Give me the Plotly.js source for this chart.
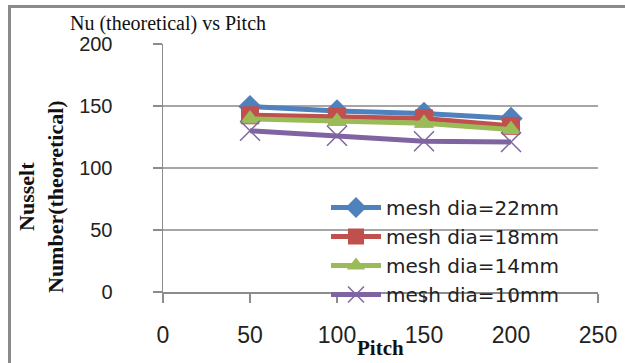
<!DOCTYPE html>
<html>
<head>
<meta charset="utf-8">
<script src="https://cdn.plot.ly/plotly-3.0.1.min.js"></script>
<style>
  html, body { margin: 0; padding: 0; background: #fff; }
  #wrap { position: relative; width: 625px; height: 363px; overflow: hidden; }
  #chart { width: 625px; height: 363px; }
  #frame { position: absolute; left: 8px; top: 5px; width: 640px; height: 400px;
           border-top: 3px solid #8a8a8a; border-left: 3px solid #8a8a8a; pointer-events: none; }
</style>
</head>
<body>
<div id="wrap">
  <div id="chart"></div>
  <div id="frame"></div>
</div>
<script>
const pitch = [50, 100, 150, 200];
const seriesNames = ["mesh dia=22mm", "mesh dia=18mm", "mesh dia=14mm", "mesh dia=10mm"];
const nu22 = [149.5, 146, 144, 140];
const nu18 = [142.5, 141.5, 140, 134];
const nu14 = [139.5, 137.5, 136, 131];
const nu10 = [130, 126, 121.5, 121];
const xTicks = [0, 50, 100, 150, 200, 250];
const yTicks = [0, 50, 100, 150, 200];

const styles = [
  {color: "#4F81BD", symbol: "diamond", size: 18},
  {color: "#C0504D", symbol: "square", size: 18},
  {color: "#9BBB59", symbol: "triangle-up", size: 18},
  {color: "#8064A2", symbol: "x-thin-open", size: 20}
];
const values = [nu22, nu18, nu14, nu10];

const traces = values.map((v, i) => {
  const s = styles[i];
  const marker = {symbol: s.symbol, size: s.size, color: s.color};
  if (s.symbol === "x-thin-open") marker.line = {color: "#a08fc8", width: 1.5};
  return {
    x: pitch, y: v, name: seriesNames[i], type: "scatter", mode: "lines+markers",
    line: {color: s.color, width: 5}, marker: marker
  };
});

const layout = {
  width: 625, height: 363,
  margin: {l: 163, r: 27, t: 44, b: 71},
  paper_bgcolor: "#fff", plot_bgcolor: "#fff",
  showlegend: true,
  title: {
    text: "Nu (theoretical) vs Pitch",
    font: {family: "Liberation Serif", size: 20, color: "#111"},
    xref: "container", yref: "container", x: 70/625, xanchor: "left",
    y: 1 - 23/363, yanchor: "middle"
  },
  xaxis: {
    range: [0, 250], tickvals: xTicks, ticktext: xTicks.map(String),
    showgrid: false, zeroline: false, showline: true, linecolor: "#8c8c8c", linewidth: 1.5,
    ticks: "outside", ticklen: 9, tickcolor: "#8c8c8c", tickwidth: 1.5,
    ticklabelstandoff: 13,
    tickfont: {family: "Liberation Sans", size: 23, color: "#222"},
    fixedrange: true
  },
  yaxis: {
    range: [0, 200], tickvals: yTicks, ticktext: yTicks.map(String),
    showgrid: true, gridcolor: "#a6a6a6", gridwidth: 1.5,
    zeroline: false, showline: true, linecolor: "#8c8c8c", linewidth: 1.5,
    ticks: "outside", ticklen: 9, tickcolor: "#8c8c8c", tickwidth: 1.5,
    ticklabelstandoff: 36,
    tickfont: {family: "Liberation Sans", size: 20, color: "#222"},
    fixedrange: true
  },
  legend: {
    x: (326 - 163) / 435, xanchor: "left",
    y: (292 - 188) / 248, yanchor: "top",
    bgcolor: "rgba(0,0,0,0)", borderwidth: 0,
    font: {family: "DejaVu Sans", size: 20, color: "#222"},
    itemwidth: 50, tracegroupgap: 0
  },
  annotations: [
    {
      text: "Nusselt<br>Number(theoretical)", textangle: -90,
      xref: "paper", yref: "paper",
      x: -122/435, y: (292 - 196) / 248, xanchor: "center", yanchor: "middle",
      showarrow: false,
      font: {family: "Liberation Serif", size: 22, color: "#111", weight: "bold"}
    },
    {
      text: "Pitch", xref: "paper", yref: "paper",
      x: (380 - 163) / 435, y: -(348 - 292) / 248, xanchor: "center", yanchor: "middle",
      showarrow: false,
      font: {family: "Liberation Serif", size: 21, color: "#111", weight: "bold"}
    }
  ]
};

Plotly.newPlot("chart", traces, layout, {displayModeBar: false, staticPlot: true});
</script>
</body>
</html>
